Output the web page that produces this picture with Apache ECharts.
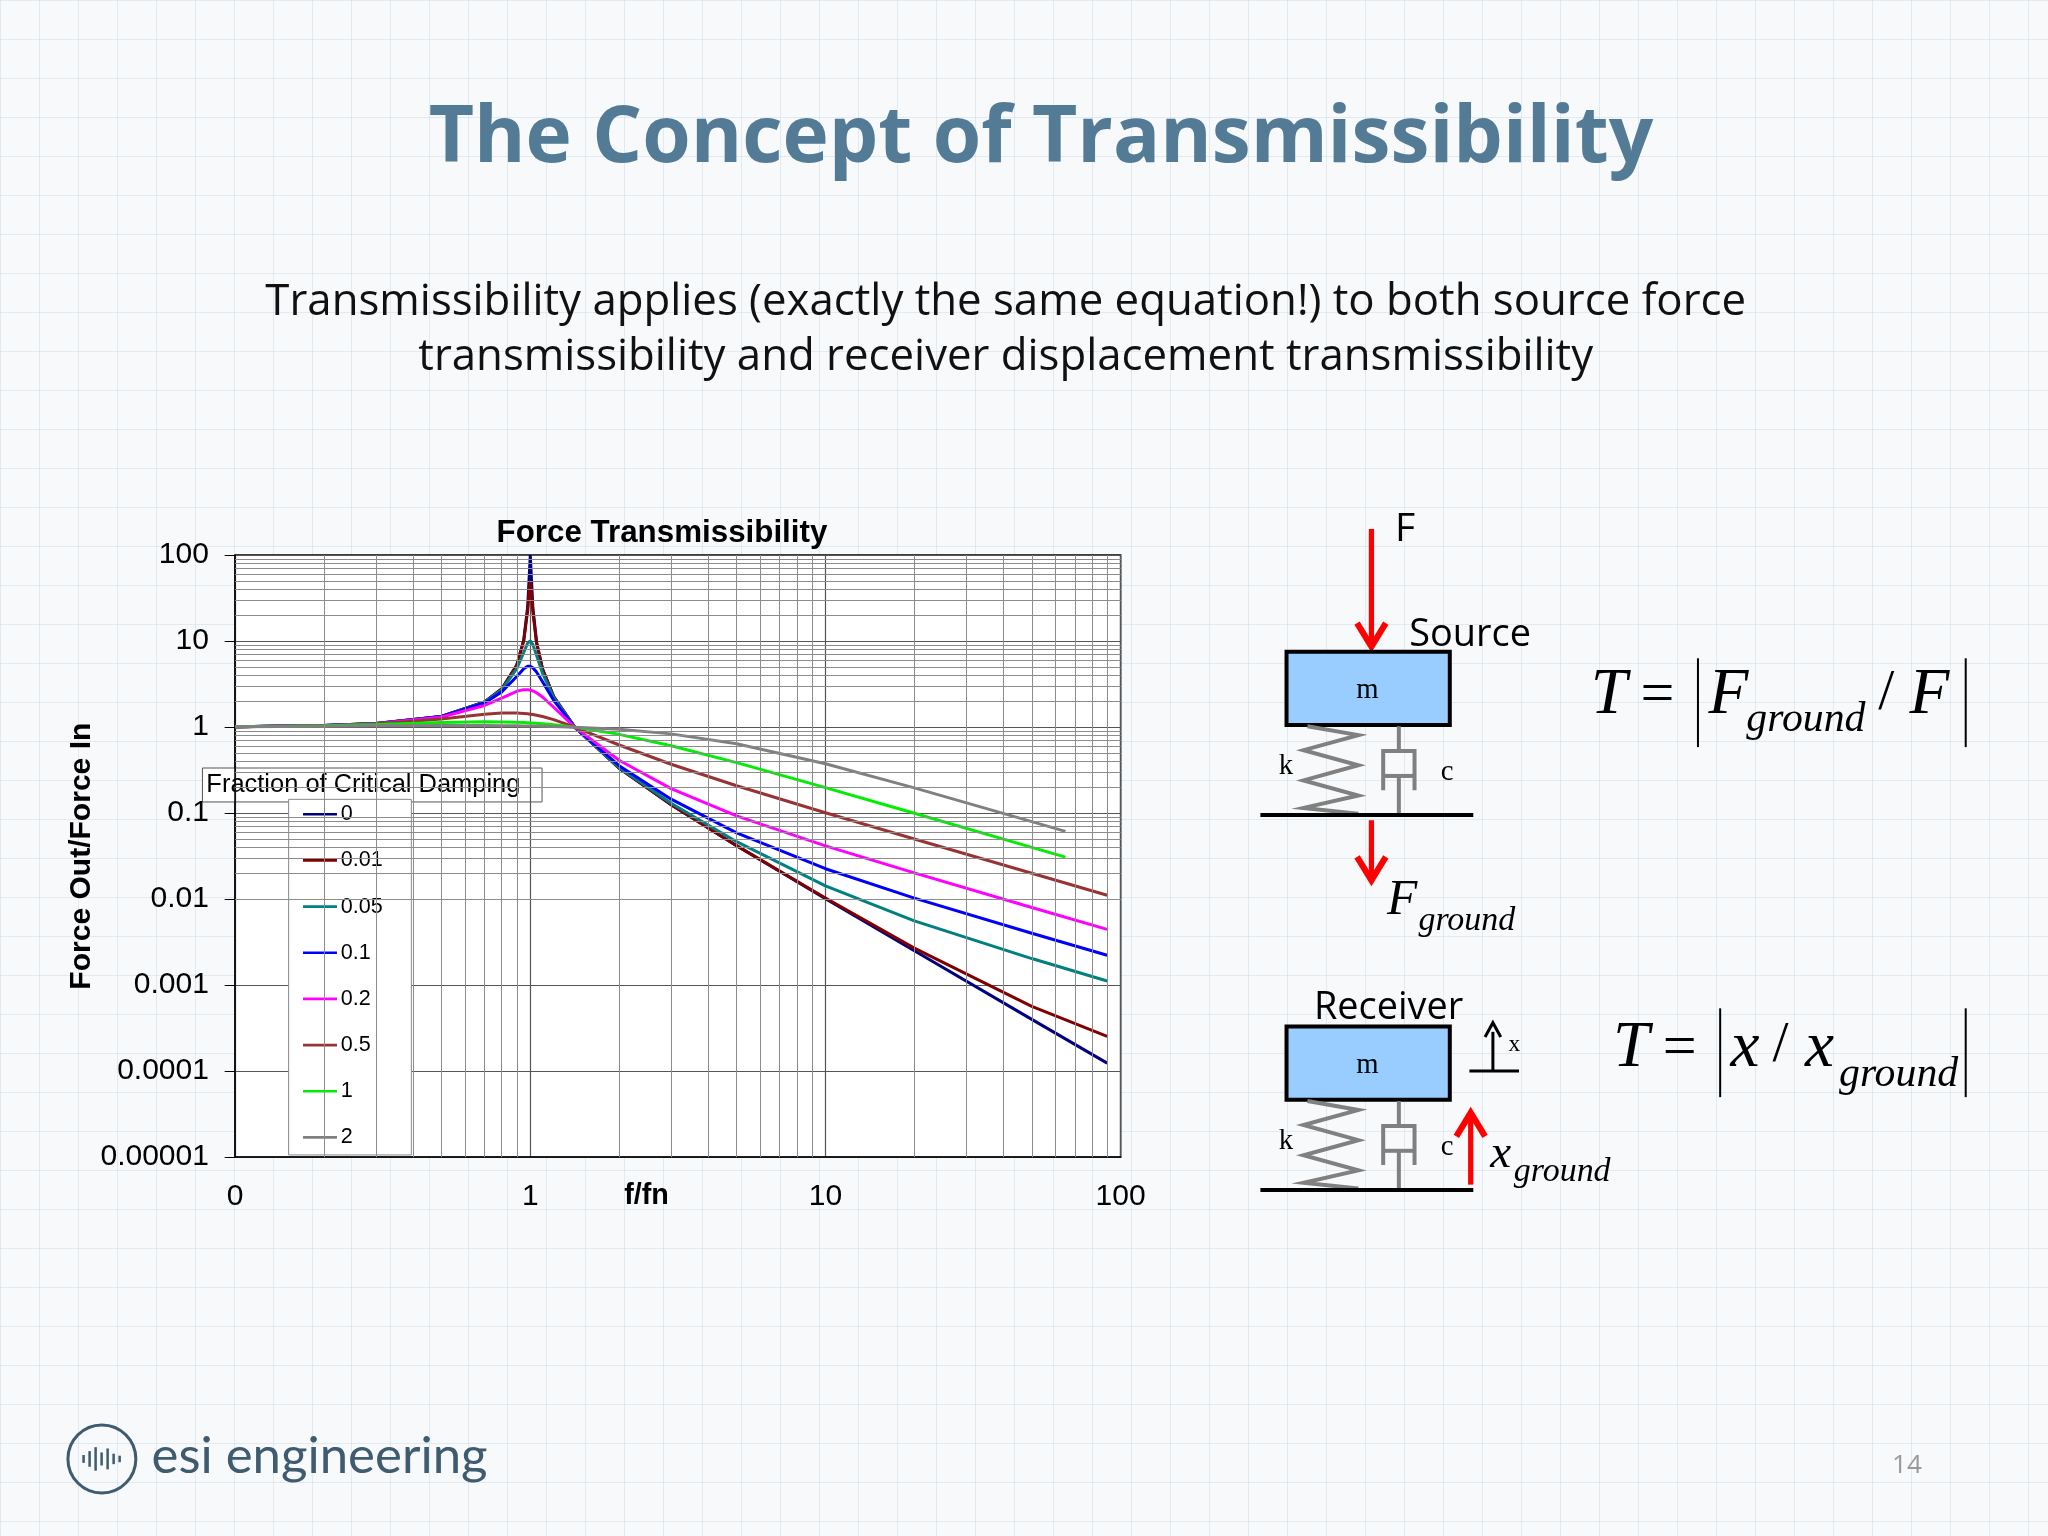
<!DOCTYPE html>
<html>
<head>
<meta charset="utf-8" />
<title>The Concept of Transmissibility</title>
<script src="https://cdn.jsdelivr.net/npm/echarts@6/dist/echarts.min.js"></script>
<style type="text/css">
html, body {
	margin: 0;
	padding: 0;
	width: 2048px;
	height: 1536px;
	overflow: hidden;
	background-color: #f7f9fb;
	background-image:
		linear-gradient(rgba(170,195,215,0.28) 1px, transparent 1px),
		linear-gradient(90deg, rgba(170,195,215,0.28) 1px, transparent 1px);
	background-size: 39px 39px;
}
#main {
	width: 2048px;
	height: 1536px;
}
</style>
</head>
<body>
<div id="main"></div>
<script>
// f/fn sample points
const freq = [0.1,0.2,0.3,0.5,0.7,0.8,0.9,0.95,0.98,0.99,1,1.01,1.02,1.05,1.1,1.2,1.414,2,3,5,10,20,50,90];
const freqShort = [0.1,0.2,0.3,0.5,0.7,0.8,0.9,0.95,0.98,0.99,1,1.01,1.02,1.05,1.1,1.2,1.414,2,3,5,10,20,50,65];

// transmissibility per damping ratio
const z0   = [1.010,1.042,1.099,1.333,1.961,2.778,5.263,10.26,25.25,50.25,100,49.75,24.75,9.76,4.76,2.27,1.0,0.333,0.125,0.0417,0.0101,0.00251,0.0004,0.000124];
const z001 = [1.010,1.042,1.099,1.333,1.961,2.777,5.24,10.07,22.6,35.6,50,35.1,22.1,9.56,4.74,2.27,1.0,0.334,0.1256,0.0419,0.0103,0.0027,0.000566,0.000254];
const z005 = [1.010,1.042,1.099,1.332,1.945,2.72,4.78,7.38,9.5,9.95,10.05,9.75,9.17,6.85,4.24,2.21,1.0,0.339,0.1304,0.0466,0.01428,0.0056,0.00204,0.00112];
const z01  = [1.010,1.042,1.098,1.328,1.909,2.57,3.88,4.77,5.10,5.12,5.10,5.03,4.91,4.37,3.37,2.05,1.0,0.356,0.1453,0.0589,0.0226,0.0103,0.00402,0.00223];
const z02  = [1.010,1.041,1.097,1.314,1.785,2.18,2.61,2.727,2.726,2.713,2.693,2.666,2.634,2.51,2.24,1.703,1.0,0.4125,0.1931,0.0929,0.0416,0.0202,0.00801,0.00445];
const z05  = [1.010,1.040,1.090,1.240,1.409,1.46,1.463,1.444,1.4275,1.421,1.414,1.407,1.399,1.374,1.328,1.222,1.0,0.620,0.370,0.208,0.101,0.0501,0.0200,0.0111];
const z1   = [1.0097,1.0356,1.0697,1.131,1.155,1.151,1.1376,1.1286,1.1224,1.1203,1.118,1.1158,1.1135,1.1063,1.0937,1.0656,1.0,0.8246,0.6083,0.3865,0.1983,0.0998,0.040,0.0308];
const z2   = [1.0087,1.0248,1.0372,1.0468,1.0446,1.041,1.0364,1.0337,1.032,1.0314,1.0308,1.0301,1.0296,1.0276,1.0243,1.0172,1.0,0.9436,0.835,0.641,0.3747,0.1966,0.0798,0.0614];

const dampNames = ['0','0.01','0.05','0.1','0.2','0.5','1','2'];
const dampColors = ['#000080','#800000','#008080','#0000ff','#ff00ff','#993333','#00ee00','#808080'];
const dampValues = [z0,z001,z005,z01,z02,z05,z1,z2];
const dampFreqs = [freq,freq,freq,freq,freq,freq,freqShort,freqShort];

// minor grid lines
const minorX = [0.2,0.3,0.4,0.5,0.6,0.7,0.8,0.9,2,3,4,5,6,7,8,9,20,30,40,50,60,70,80,90];
const minorY = [];
[0.00001,0.0001,0.001,0.01,0.1,1,10].forEach(function(d){
	for (let k = 2; k <= 9; k++) minorY.push(d * k);
});

// reference layout was measured at 1568 wide
const S = function(v){ return v * 2048 / 1568; };

let series = dampNames.map(function(name, i){
	return {
		name: name,
		type: 'line',
		data: dampFreqs[i].map(function(f, j){ return [f, dampValues[i][j]]; }),
		showSymbol: false,
		smooth: false,
		z: 3,
		lineStyle: { color: dampColors[i], width: 3 },
		itemStyle: { color: dampColors[i] },
		animation: false
	};
});
series.unshift({
	name: 'grid',
	type: 'line',
	data: [[0.1, 1]],
	showSymbol: false,
	lineStyle: { opacity: 0 },
	silent: true,
	z: 1,
	animation: false,
	markLine: {
		silent: true,
		symbol: 'none',
		label: { show: false },
		animation: false,
		lineStyle: { color: '#8c8c8c', width: 1, type: 'solid' },
		data: minorX.map(function(v){ return { xAxis: v }; })
			.concat(minorY.map(function(v){ return { yAxis: v }; }))
	}
});

// --- diagram helpers ---
let g = [];
function line(x1, y1, x2, y2, color, w) {
	g.push({ type: 'line', silent: true, shape: { x1: S(x1), y1: S(y1), x2: S(x2), y2: S(y2) },
		style: { stroke: color, lineWidth: w, lineCap: 'butt' } });
}
function poly(pts, color, w) {
	g.push({ type: 'polyline', silent: true, shape: { points: pts.map(function(p){ return [S(p[0]), S(p[1])]; }) },
		style: { stroke: color, lineWidth: w, fill: null, lineJoin: 'miter' } });
}
function text(x, y, str, font, color, align) {
	g.push({ type: 'text', silent: true, x: S(x), y: S(y),
		style: { text: str, font: font, fill: color || '#000', align: align || 'left', verticalAlign: 'middle' } });
}
function arrow(x, y1, y2, color, w) {
	// y2 is tip
	let dir = y2 > y1 ? 1 : -1;
	line(x, y1, x, y2 - dir * 3, color, w);
	poly([[x - 11, y2 - dir * 20], [x, y2 - dir * 2], [x + 11, y2 - dir * 20]], color, w + 1);
}
function massSystem(top, groundY) {
	g.push({ type: 'rect', silent: true, shape: { x: S(985), y: S(top), width: S(125), height: S(56) },
		style: { fill: '#99ccff', stroke: '#000', lineWidth: 4 } });
	text(1047, top + 30, 'm', S(22) + 'px "Liberation Serif"', '#000', 'center');
	let b = top + 57;
	let h = groundY - b;
	poly([[1001, b], [1040, b + h * 0.1], [998, b + h * 0.27], [1040, b + h * 0.44], [998, b + h * 0.61],
		[1040, b + h * 0.78], [998, b + h * 0.92], [1040, groundY - 1]], '#808080', 4);
	line(1071, b, 1071, b + h * 0.28, '#808080', 4);
	poly([[1059, b + h * 0.72], [1059, b + h * 0.28], [1083, b + h * 0.28], [1083, b + h * 0.72]], '#808080', 4);
	line(1059, b + h * 0.56, 1083, b + h * 0.56, '#808080', 4);
	line(1071, b + h * 0.56, 1071, groundY, '#808080', 4);
	line(965, groundY, 1128, groundY, '#000', 4);
	text(979, b + h * 0.45, 'k', S(22) + 'px "Liberation Serif"');
	text(1103, b + h * 0.52, 'c', S(22) + 'px "Liberation Serif"');
}
function absBars(x1, x2, yc) {
	line(x1, yc - 34, x1, yc + 34, '#000', 2);
	line(x2, yc - 34, x2, yc + 34, '#000', 2);
}

const serifI = function(sz){ return 'italic ' + S(sz) + 'px "Liberation Serif"'; };
const serifN = function(sz){ return S(sz) + 'px "Liberation Serif"'; };

// source
arrow(1050, 405, 497, '#ff0000', S(4));
text(1068, 406, 'F', S(30) + 'px "Open Sans"');
text(1079, 486, 'Source', S(29) + 'px "Open Sans"');
massSystem(499, 624);
arrow(1050, 628, 676, '#ff0000', S(4));
text(1062, 690, 'F', serifI(38));
text(1086, 705, 'ground', serifI(26));
// source formula
text(1218, 533, 'T', serifI(50));
text(1256, 533, '=', serifN(46));
absBars(1300, 1505, 538);
text(1308, 533, 'F', serifI(50));
text(1337, 551, 'ground', serifI(32));
text(1438, 531, '/', serifN(44));
text(1462, 533, 'F', serifI(50));

// receiver
text(1006, 772, 'Receiver', S(29) + 'px "Open Sans"');
massSystem(786, 911);
arrow(1126, 907, 850, '#ff0000', S(4));
text(1141, 884, 'x', serifI(36));
text(1159, 897, 'ground', serifI(26));
line(1125, 820, 1163, 820, '#000', 3);
line(1143, 820, 1143, 790, '#000', 3);
poly([[1137, 794], [1143, 783], [1149, 794]], '#000', 3);
text(1155, 800, 'x', serifN(18));
// receiver formula
text(1235, 803, 'T', serifI(50));
text(1273, 803, '=', serifN(46));
absBars(1317, 1505, 806);
text(1325, 803, 'x', serifI(50));
text(1357, 801, '/', serifN(44));
text(1382, 803, 'x', serifI(50));
text(1408, 823, 'ground', serifI(32));

// legend title box
g.push({ type: 'rect', silent: true, shape: { x: S(155), y: S(588), width: S(260), height: S(26) },
	style: { fill: '#fff', stroke: '#555', lineWidth: 1 } });
text(158, 601, 'Fraction of Critical Damping', S(19.5) + 'px "Liberation Sans"');

// x axis name sits on the tick label line
text(495, 916, 'f/fn', 'bold ' + S(22) + 'px "Liberation Sans"', '#000', 'center');

// slide titles
text(797, 107, 'The Concept of Transmissibility', 'bold ' + S(60) + 'px "Open Sans"', '#537b96', 'center');
text(770, 232, 'Transmissibility applies (exactly the same equation!) to both source force', S(33.5) + 'px "Open Sans"', '#111', 'center');
text(770, 274, 'transmissibility and receiver displacement transmissibility', S(33.5) + 'px "Open Sans"', '#111', 'center');

// logo and page number
g.push({ type: 'circle', silent: true, shape: { cx: S(78), cy: S(1117), r: S(26) },
	style: { fill: 'none', stroke: '#3e5b70', lineWidth: 3 } });
[6, 12, 18, 10, 16, 8, 5].forEach(function(hh, i){
	line(64 + i * 4.6, 1117 - hh / 2, 64 + i * 4.6, 1117 + hh / 2, '#3e5b70', 2.5);
});
text(116, 1115, 'esi engineering', S(39) + 'px "Lato"', '#3e5b70');
text(1460, 1122, '14', S(20) + 'px "Open Sans"', '#999', 'center');

const logLabel = function(v){
	let e = Math.round(Math.log10(v));
	if (e >= 0) return String(Math.pow(10, e));
	return '0.' + '0'.repeat(-e - 1) + '1';
};

let chart = echarts.init(document.getElementById('main'));
chart.setOption({
	animation: false,
	title: {
		text: 'Force Transmissibility',
		left: S(503),
		top: S(393),
		textAlign: 'center',
		textStyle: { fontFamily: 'Liberation Sans', fontWeight: 'bold', fontSize: S(24), color: '#000' }
	},
	legend: {
		orient: 'vertical',
		left: S(221),
		top: S(612),
		data: dampNames,
		backgroundColor: '#fff',
		borderColor: '#888',
		borderWidth: 1,
		padding: [S(3), S(22), S(5), S(11)],
		itemWidth: S(26),
		itemHeight: S(12),
		itemGap: S(18.5),
		icon: 'path://M0,5 L26,5 L26,7 L0,7 Z',
		textStyle: { fontFamily: 'Liberation Sans', fontSize: S(16.5), color: '#000', padding: [0, 0, 0, -S(1)] }
	},
	grid: {
		left: S(180),
		top: S(425),
		width: S(678),
		height: S(461),
		show: true,
		borderColor: '#000',
		borderWidth: 1.5,
		backgroundColor: '#fff'
	},
	xAxis: {
		type: 'log',
		logBase: 10,
		min: 0.1,
		max: 100,
		axisLine: { lineStyle: { color: '#000', width: 1.5 } },
		axisTick: { show: false },
		splitLine: { show: true, lineStyle: { color: '#555', width: 1.2 } },
		axisLabel: {
			fontFamily: 'Liberation Sans', fontSize: S(23), color: '#000', margin: S(19),
			formatter: function(v){ return Math.abs(v - 0.1) < 1e-9 ? '0' : logLabel(v); }
		}
	},
	yAxis: {
		type: 'log',
		logBase: 10,
		min: 0.00001,
		max: 100,
		name: 'Force Out/Force In',
		nameLocation: 'middle',
		nameGap: S(101),
		nameTextStyle: { fontFamily: 'Liberation Sans', fontWeight: 'bold', fontSize: S(23), color: '#000' },
		axisLine: { show: true, lineStyle: { color: '#000', width: 1.5 } },
		axisTick: { show: true, inside: false, length: S(8), lineStyle: { color: '#000' } },
		splitLine: { show: true, lineStyle: { color: '#555', width: 1.2 } },
		axisLabel: {
			fontFamily: 'Liberation Sans', fontSize: S(23), color: '#000', margin: S(20),
			formatter: logLabel
		}
	},
	series: series,
	graphic: g
});
</script>
</body>
</html>
